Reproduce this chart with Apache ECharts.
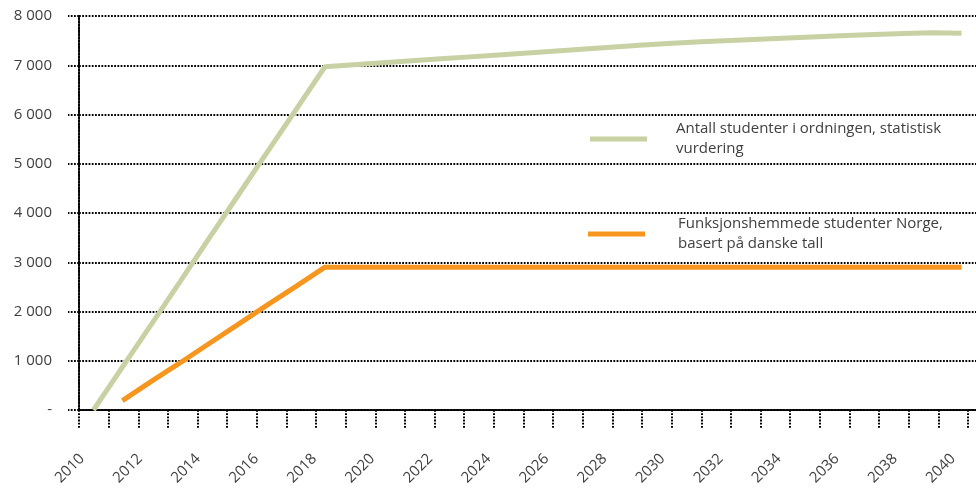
<!DOCTYPE html>
<html>
<head>
<meta charset="utf-8">
<script src="https://cdn.jsdelivr.net/npm/echarts@6/dist/echarts.min.js"></script>
<style>
  html, body { margin: 0; padding: 0; background: #fff; }
  #chart { width: 976px; height: 488px; }
</style>
</head>
<body>
<div id="chart"></div>
<script>
// years on the category axis
const years = ["2010", "2011", "2012", "2013", "2014", "2015", "2016", "2017", "2018", "2019",
  "2020", "2021", "2022", "2023", "2024", "2025", "2026", "2027", "2028", "2029",
  "2030", "2031", "2032", "2033", "2034", "2035", "2036", "2037", "2038", "2039", "2040"];

const statistiskVurdering = [0, 870, 1740, 2610, 3490, 4360, 5230, 6100, 6970, 7010,
  7050, 7090, 7130, 7170, 7210, 7250, 7290, 7330, 7370, 7410,
  7445, 7475, 7505, 7530, 7555, 7580, 7605, 7625, 7645, 7660, 7650];

const danskeTall = [null, 190, 580, 960, 1350, 1740, 2130, 2510, 2900, 2900,
  2900, 2900, 2900, 2900, 2900, 2900, 2900, 2900, 2900, 2900,
  2900, 2900, 2900, 2900, 2900, 2900, 2900, 2900, 2900, 2900, 2900];

const seriesNames = [
  "Antall studenter i ordningen, statistisk vurdering",
  "Funksjonshemmede studenter Norge, basert på danske tall"
];
const legendLines = {
  [seriesNames[0]]: "Antall studenter i ordningen, statistisk\nvurdering",
  [seriesNames[1]]: "Funksjonshemmede studenter Norge,\nbasert på danske tall"
};

const textColor = "#404040";
const font = "'Open Sans', sans-serif";
const dots = { color: "#000", width: 2, type: [1.8, 1.4] };

const chart = echarts.init(document.getElementById("chart"));

chart.setOption({
  animation: false,
  textStyle: { fontFamily: font },
  grid: [
    { left: 79, right: 0, top: 16, bottom: 78 },
    { left: 79, width: 889, top: 16, bottom: 78 },
    { left: 82, width: 871, top: 16, bottom: 78 }
  ],
  xAxis: [
    {
      type: "category", gridIndex: 0, data: years, boundaryGap: true,
      axisLine: { show: true, lineStyle: dots },
      axisTick: { show: false }, axisLabel: { show: false }, splitLine: { show: false }
    },
    {
      // the dotted tick marks under the axis
      type: "value", gridIndex: 1, min: 0, max: 30, interval: 1,
      axisLine: { show: false }, axisLabel: { show: false }, splitLine: { show: false },
      axisTick: { show: true, length: 18, lineStyle: dots }
    },
    {
      // year labels
      type: "value", gridIndex: 2, min: 2010, max: 2040, interval: 2,
      axisLine: { show: false }, axisTick: { show: false }, splitLine: { show: false },
      axisLabel: {
        rotate: 45, margin: 49, color: textColor, fontSize: 15, fontFamily: font,
        formatter: v => String(v)
      }
    }
  ],
  yAxis: [
    {
      type: "value", gridIndex: 0, min: 0, max: 8000, interval: 1000,
      axisLine: { show: true, lineStyle: dots },
      axisTick: { show: true, length: 11, lineStyle: dots },
      splitLine: { show: true, lineStyle: dots },
      axisLabel: {
        margin: 27, color: textColor, fontSize: 15, fontFamily: font,
        formatter: v => v === 0 ? "-" : String(v).replace(/\B(?=(\d{3})+(?!\d))/g, " ")
      }
    },
    { type: "value", gridIndex: 1, min: 0, max: 8000, show: false },
    { type: "value", gridIndex: 2, min: 0, max: 8000, show: false }
  ],
  legend: [
    {
      data: [seriesNames[0]], left: 590, top: 119, padding: 0,
      icon: "rect", itemWidth: 57, itemHeight: 5, selectedMode: false,
      formatter: n => legendLines[n],
      textStyle: { color: textColor, fontSize: 15, fontFamily: font, lineHeight: 20, padding: [0, 0, 0, 24] }
    },
    {
      data: [seriesNames[1]], left: 588, top: 214, padding: 0,
      icon: "rect", itemWidth: 57, itemHeight: 5, selectedMode: false,
      formatter: n => legendLines[n],
      textStyle: { color: textColor, fontSize: 15, fontFamily: font, lineHeight: 20, padding: [0, 0, 0, 28] }
    }
  ],
  series: [
    {
      name: seriesNames[0], type: "line", data: statistiskVurdering,
      xAxisIndex: 0, yAxisIndex: 0, showSymbol: false, symbol: "none",
      itemStyle: { color: "#c8d1a3" },
      lineStyle: { color: "#c8d1a3", width: 5 }
    },
    {
      name: seriesNames[1], type: "line", data: danskeTall,
      xAxisIndex: 0, yAxisIndex: 0, showSymbol: false, symbol: "none",
      itemStyle: { color: "#f7961f" },
      lineStyle: { color: "#f7961f", width: 5 }
    }
  ]
});
</script>
</body>
</html>
